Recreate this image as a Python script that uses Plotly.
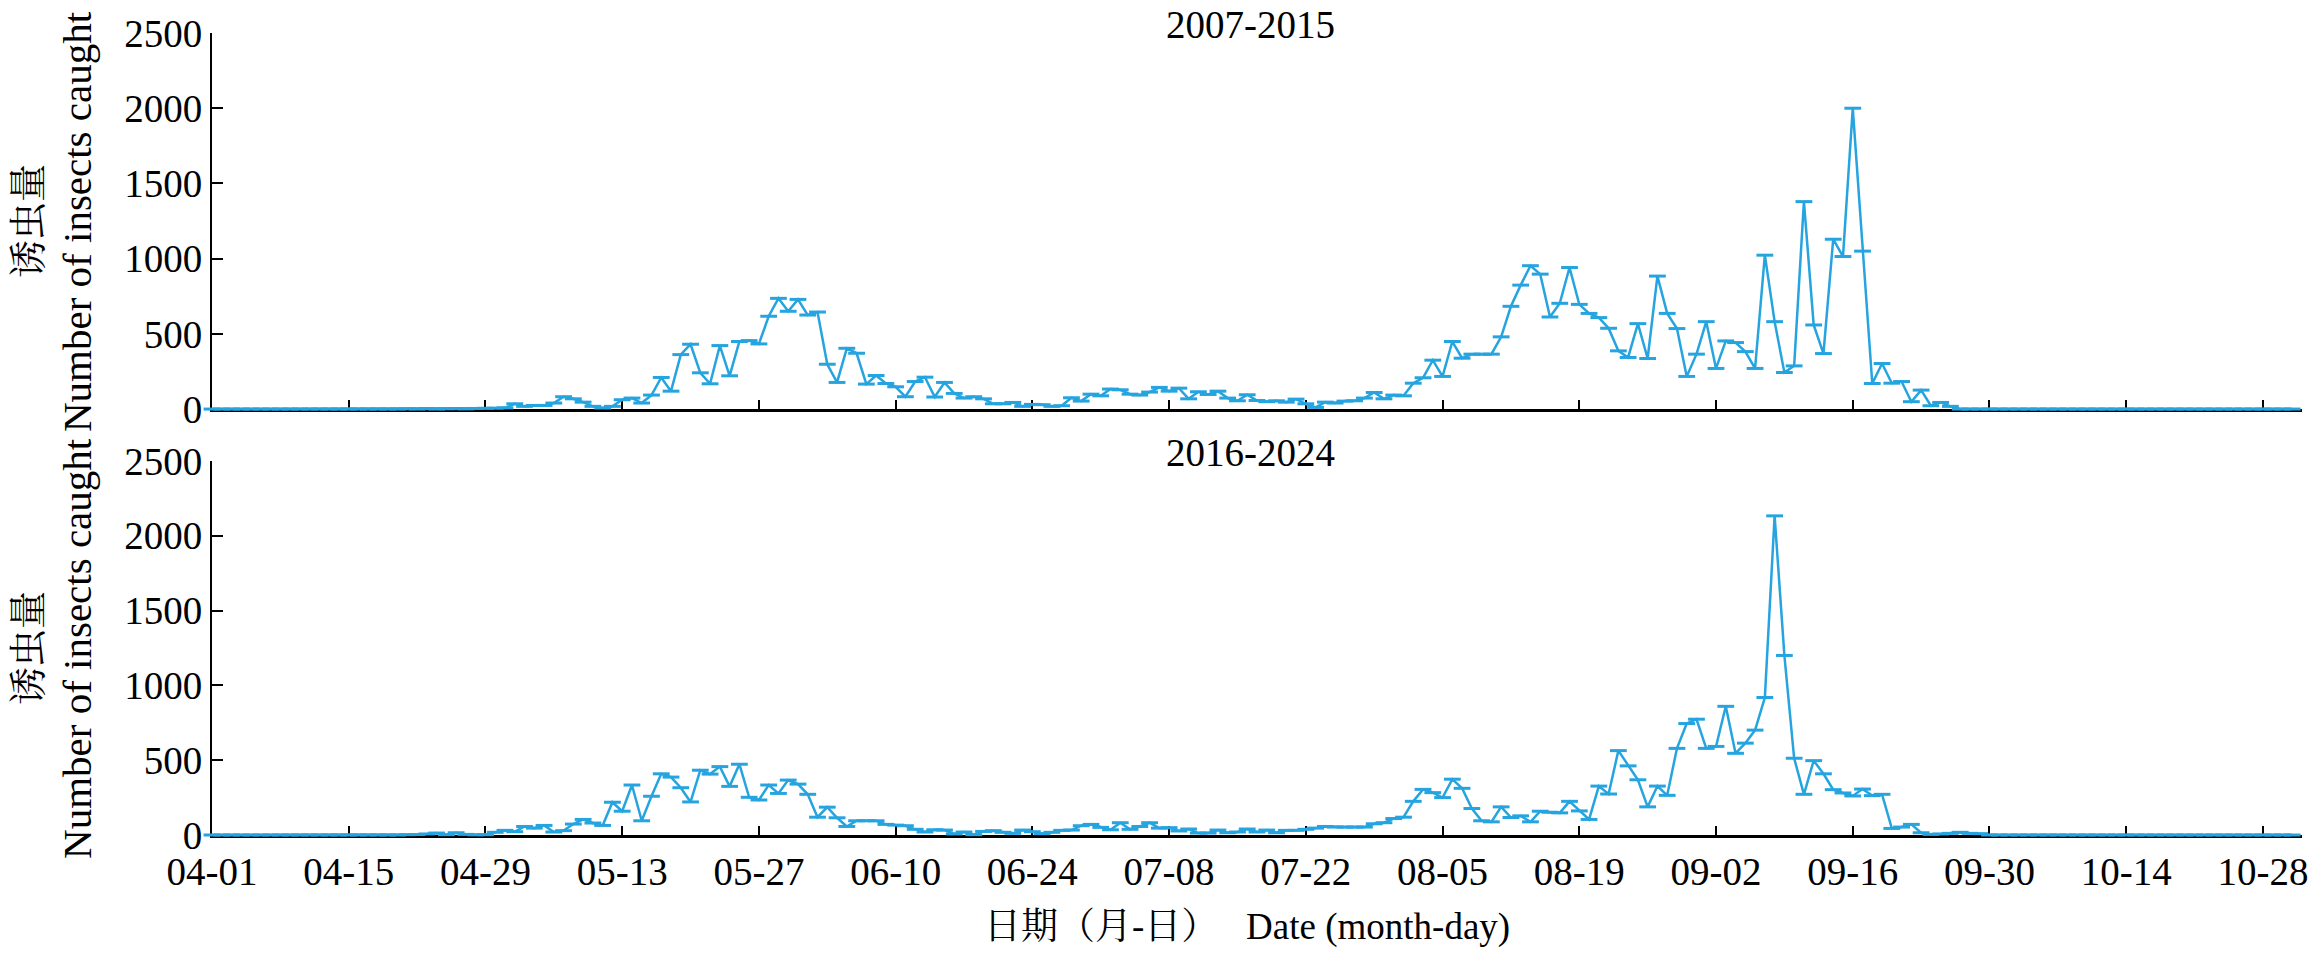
"""
Daily trap catches, 2007-2015 vs 2016-2024, two stacked panels.
"""
import pandas as pd
import plotly.graph_objects as go

# Data (one value per day, 04-01 .. 10-31, rows of 14 days)
dates = pd.date_range("2024-04-01", "2024-10-31", freq="D")

counts_2007_2015 = [
    0, 0, 0, 0, 0, 0, 0, 0, 0, 0, 0, 0, 0, 0,
    0, 0, 0, 0, 0, 0, 2, 0, 3, 0, 2, 3, 1, 4,
    5, 6, 8, 35, 18, 24, 24, 40, 82, 68, 46, 18, 7, 18,
    62, 73, 40, 93, 210, 119, 362, 431, 241, 168, 422, 221, 449, 455,
    433, 617, 736, 650, 729, 625, 645, 298, 177, 404, 371, 166, 223, 170,
    148, 82, 183, 212, 80, 177, 104, 73, 82, 68, 35, 35, 44, 18,
    31, 29, 18, 22, 75, 53, 99, 88, 133, 128, 99, 93, 113, 144,
    119, 139, 68, 115, 97, 119, 73, 55, 95, 57, 49, 55, 46, 66,
    35, 11, 46, 40, 53, 55, 73, 110, 68, 93, 88, 172, 208, 325,
    217, 449, 338, 365, 365, 365, 480, 683, 824, 953, 897, 612, 703, 941,
    696, 636, 608, 537, 387, 343, 568, 336, 884, 636, 535, 217, 365, 581,
    270, 453, 442, 382, 270, 1023, 581, 243, 287, 1379, 559, 369, 1129, 1014,
    2000, 1050, 170, 303, 172, 183, 49, 126, 22, 44, 18, 0, 0, 0,
    0, 0, 0, 0, 0, 0, 0, 0, 0, 0, 0, 0, 0, 0,
    0, 0, 0, 0, 0, 0, 0, 0, 0, 0, 0, 0, 0, 0,
    0, 0, 0, 0,
]

counts_2016_2024 = [
    0, 0, 0, 0, 0, 0, 0, 0, 0, 0, 0, 0, 0, 0,
    0, 0, 0, 0, 0, 0, 2, 3, 7, 13, 2, 15, 4, 1,
    2, 18, 31, 22, 57, 46, 64, 20, 29, 73, 104, 80, 64, 219,
    159, 334, 95, 259, 409, 387, 316, 221, 433, 407, 457, 325, 473, 252,
    234, 334, 278, 367, 340, 272, 119, 186, 115, 57, 95, 95, 95, 71,
    66, 62, 38, 20, 35, 33, 7, 20, 2, 24, 29, 18, 11, 33,
    22, 9, 18, 31, 33, 62, 71, 51, 35, 82, 38, 57, 82, 46,
    49, 27, 40, 13, 13, 33, 15, 20, 40, 20, 33, 15, 31, 31,
    38, 46, 57, 53, 53, 53, 53, 75, 82, 110, 119, 225, 305, 283,
    250, 373, 312, 177, 95, 88, 188, 117, 128, 88, 159, 152, 148, 225,
    161, 104, 327, 274, 564, 462, 369, 188, 327, 265, 579, 745, 774, 579,
    592, 860, 546, 614, 701, 919, 2133, 1200, 513, 272, 497, 409, 303, 281,
    261, 307, 263, 272, 44, 53, 71, 15, 4, 7, 11, 18, 11, 9,
    0, 0, 0, 0, 0, 0, 0, 0, 0, 0, 0, 0, 0, 0,
    0, 0, 0, 0, 0, 0, 0, 0, 0, 0, 0, 0, 0, 0,
    0, 0, 0, 0,
]

tick_labels = ["04-01", "04-15", "04-29", "05-13", "05-27", "06-10", "06-24", "07-08",
               "07-22", "08-05", "08-19", "09-02", "09-16", "09-30", "10-14", "10-28"]

panel_titles = ["2007-2015", "2016-2024"]
y_title_cn = "诱虫量"
y_title_en = "Number of insects caught"
x_title_cn = "日期（月-日）"
x_title_en = "Date (month-day)"

LINE_COLOR = "#25A4DF"
FONT = "Liberation Serif, Noto Serif CJK SC, Noto Sans CJK SC, serif"
FONT_SIZE = 39

tick_dates = [f"2024-{t}" for t in tick_labels]

fig = go.Figure()

for counts, xa, ya in [(counts_2007_2015, "x", "y"), (counts_2016_2024, "x2", "y2")]:
    fig.add_trace(go.Scatter(
        x=dates, y=counts, xaxis=xa, yaxis=ya, mode="lines+markers",
        line=dict(color=LINE_COLOR, width=2.5),
        marker=dict(symbol="line-ew", size=12, color=LINE_COLOR,
                    line=dict(width=3, color=LINE_COLOR)),
        cliponaxis=False, showlegend=False, hoverinfo="skip",
    ))

x_common = dict(
    type="date", range=["2024-04-01", "2024-11-01"],
    tickvals=tick_dates, ticktext=tick_labels,
    ticks="inside", ticklen=9, tickwidth=2, tickcolor="black",
    showline=True, linewidth=3, linecolor="black",
    showgrid=False, zeroline=False, layer="below traces",
    tickfont=dict(family=FONT, size=FONT_SIZE, color="black"),
)
y_common = dict(
    range=[0, 2500], tickvals=[0, 500, 1000, 1500, 2000, 2500],
    ticks="inside", ticklen=11, tickwidth=2, tickcolor="black",
    showline=True, linewidth=2, linecolor="black",
    showgrid=False, zeroline=False, layer="below traces",
    tickfont=dict(family=FONT, size=FONT_SIZE, color="black"),
)

top_dom = [0.5311, 1.0]
bot_dom = [0.0, 0.4664]

fig.update_layout(
    width=2320, height=955,
    margin=dict(l=212, r=17, t=31, b=120),
    plot_bgcolor="white", paper_bgcolor="white",
    font=dict(family=FONT, size=FONT_SIZE, color="black"),
    xaxis=dict(x_common, anchor="y", domain=[0, 1], showticklabels=False),
    yaxis=dict(y_common, anchor="x", domain=top_dom),
    xaxis2=dict(x_common, anchor="y2", domain=[0, 1]),
    yaxis2=dict(y_common, anchor="x2", domain=bot_dom),
)

annotations = []
for title, dom in zip(panel_titles, [top_dom, bot_dom]):
    mid = (dom[0] + dom[1]) / 2
    annotations.append(dict(
        text=title, xref="paper", yref="paper", x=0.497, y=dom[1] + 0.01,
        xanchor="center", yanchor="middle", showarrow=False,
        font=dict(family=FONT, size=FONT_SIZE, color="black"),
    ))
    # two-line y title, placed line by line
    annotations.append(dict(
        text=y_title_cn, xref="paper", yref="paper", x=-0.088, y=mid,
        xanchor="center", yanchor="middle", textangle=-90, showarrow=False,
        font=dict(family=FONT, size=38, color="black"),
    ))
    annotations.append(dict(
        text=y_title_en, xref="paper", yref="paper", x=-0.0646, y=mid,
        xanchor="center", yanchor="middle", textangle=-90, showarrow=False,
        font=dict(family=FONT, size=41, color="black"),
    ))
annotations.append(dict(
    text=f'<span style="font-size:37px">{x_title_cn}</span>\u00a0\u00a0\u00a0{x_title_en}',
    xref="paper", yref="paper", x=0.495, y=-0.1144,
    xanchor="center", yanchor="middle", showarrow=False,
    font=dict(family=FONT, size=37, color="black"),
))
fig.update_layout(annotations=annotations)

# drop the default page margin so the figure sits at the window corner
fig.write_html("out.html", config={"displayModeBar": False},
               post_script="document.body.style.margin='0';")
